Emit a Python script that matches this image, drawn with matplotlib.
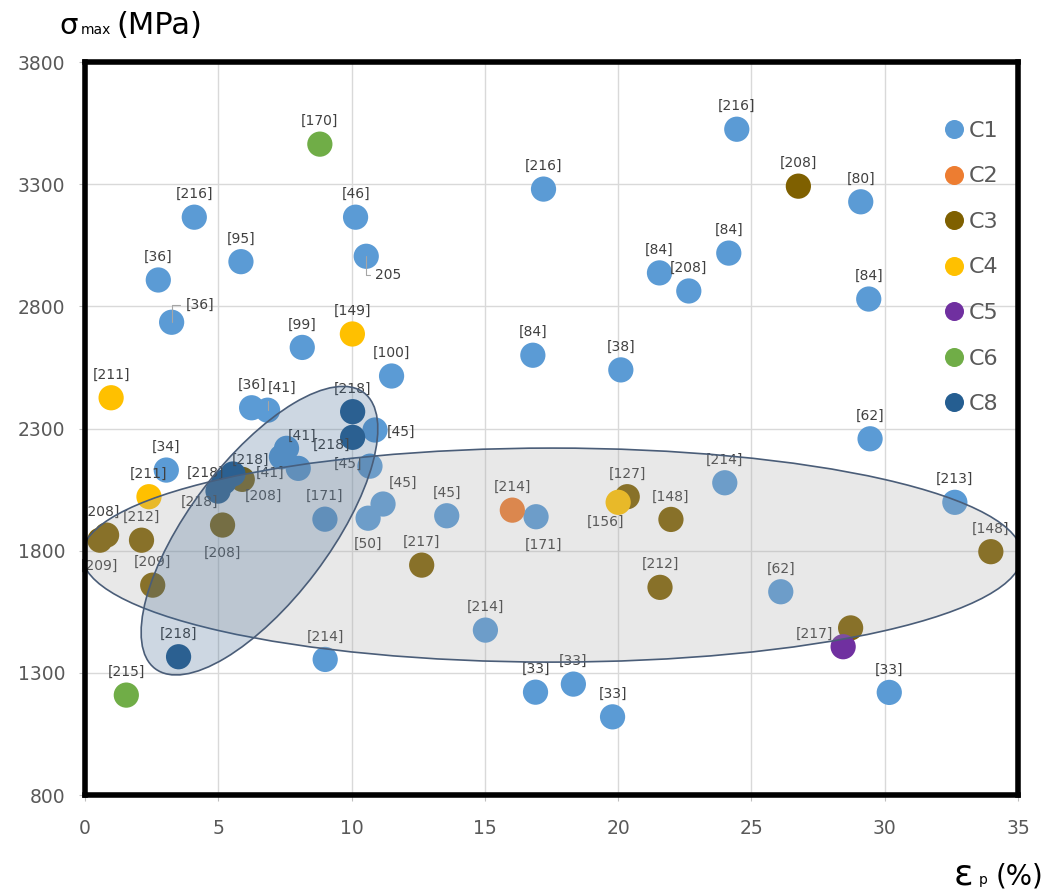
import numpy as np
import matplotlib.pyplot as plt
from matplotlib.patches import Ellipse
from matplotlib.lines import Line2D
from matplotlib.transforms import Affine2D

# elongation eps_p (%), max stress (MPa), reference tags
c1_x = [24.45, 17.2, 4.1, 10.15, 5.85, 10.55, 2.75, 3.25, 8.15, 21.55,
        22.65, 24.15, 29.1, 29.4, 16.8, 20.1, 11.5, 6.25, 6.85, 29.45,
        3.05, 7.56, 7.37, 8.0, 10.88, 10.69, 11.18, 10.62, 9.0, 13.57,
        16.92, 24.0, 32.63, 26.1, 15.02, 9.01, 16.9, 18.32, 19.79, 30.17]
c1_y = [3525, 3280, 3165, 3165, 2983, 3005, 2908, 2735, 2632, 2937,
        2863, 3018, 3228, 2830, 2600, 2540, 2515, 2385, 2375, 2258,
        2130, 2219, 2184, 2137, 2294, 2146, 1991, 1933, 1929, 1943,
        1939, 2078, 1998, 1632, 1475, 1355, 1221, 1254, 1120, 1220]
c1_ref = ['[216]', '[216]', '[216]', '[46]', '[95]', '205', '[36]', '[36]', '[99]', '[84]',
          '[208]', '[84]', '[80]', '[84]', '[84]', '[38]', '[100]', '[36]', '[41]', '[62]',
          '[34]', '[41]', '', '[41]', '[45]', '[45]', '[45]', '[50]', '[171]', '[45]',
          '[171]', '[214]', '[213]', '[62]', '[214]', '[214]', '[33]', '[33]', '[33]', '[33]']

c2_x = [16.03]
c2_y = [1966]
c2_ref = ['[214]']

c3_x = [26.76, 20.34, 21.98, 21.57, 12.63, 33.98, 28.72, 5.16, 5.9, 2.12, 0.81, 0.56, 2.54]
c3_y = [3292, 2021, 1928, 1650, 1741, 1796, 1484, 1905, 2092, 1843, 1864, 1843, 1659]
c3_ref = ['[208]', '[127]', '[148]', '[212]', '[217]', '[148]', '', '[208]', '[208]',
          '[212]', '[208]', '[209]', '[209]']

c4_x = [10.03, 0.98, 2.4, 20.0]
c4_y = [2687, 2426, 2021, 1998]
c4_ref = ['[149]', '[211]', '[211]', '[156]']

c5_x = [28.44]
c5_y = [1407]
c5_ref = ['[217]']

c6_x = [8.81, 1.55]
c6_y = [3464, 1209]
c6_ref = ['[170]', '[215]']

c8_x = [10.04, 10.04, 5.55, 5.21, 4.99, 3.51]
c8_y = [2369, 2264, 2114, 2081, 2044, 1366]
c8_ref = ['[218]', '[218]', '[218]', '[218]', '[218]', '[218]']

series = [
    ('C1', c1_x, c1_y, c1_ref, '#5B9BD5'),
    ('C2', c2_x, c2_y, c2_ref, '#ED7D31'),
    ('C3', c3_x, c3_y, c3_ref, '#7F6000'),
    ('C4', c4_x, c4_y, c4_ref, '#FFC000'),
    ('C5', c5_x, c5_y, c5_ref, '#7030A0'),
    ('C6', c6_x, c6_y, c6_ref, '#70AD47'),
    ('C8', c8_x, c8_y, c8_ref, '#255E91'),
]

# label placement (pixels) where it is not just above the marker
offsets = {
    ('C1', 5): (22, -19), ('C1', 7): (28, 17), ('C1', 18): (14, 22),
    ('C1', 21): (16, 12), ('C1', 23): (-28, -4), ('C1', 24): (26, -2),
    ('C1', 25): (-22, 2), ('C1', 26): (20, 21), ('C1', 27): (0, -26),
    ('C1', 30): (7, -28),
    ('C3', 7): (0, -28), ('C3', 8): (21, -16), ('C3', 10): (-5, 23),
    ('C3', 11): (0, -26),
    ('C4', 3): (-13, -20),
    ('C5', 0): (-29, 13),
    ('C8', 1): (-21, -8), ('C8', 2): (18, 14), ('C8', 3): (-18, 9),
    ('C8', 4): (-19, -11),
}
leaders = [('C1', 5), ('C1', 7), ('C1', 18)]

fig = plt.figure(figsize=(10.48, 8.94), dpi=100)
ax = fig.add_axes([0.0811, 0.1107, 0.8903, 0.8199])

for name, xs, ys, refs, col in series:
    ax.scatter(xs, ys, s=330, color=col, edgecolors='none', zorder=3)
    for i, (x, y, r) in enumerate(zip(xs, ys, refs)):
        if not r:
            continue
        dx, dy = offsets.get((name, i), (0, 23))
        kw = {}
        if (name, i) in leaders:
            kw['arrowprops'] = dict(arrowstyle='-', color='#A6A6A6', lw=0.8,
                                    shrinkA=2, shrinkB=0,
                                    connectionstyle='angle,angleA=0,angleB=90')
        ax.annotate(r, (x, y), xytext=(dx, dy), textcoords='offset pixels',
                    ha='center', va='center', fontsize=10, color='#404040',
                    zorder=4, **kw)

# highlighted groups
ax.add_patch(Ellipse((17.52, 1782), 35.26, 876, facecolor='#A6A6A6',
                     alpha=0.25, edgecolor='none', zorder=5))
ax.add_patch(Ellipse((17.52, 1782), 35.26, 876, facecolor='none',
                     edgecolor='#4A5D78', lw=1.2, zorder=5))
k = 109.1  # MPa per visual unit of x
tr = Affine2D().scale(1, k) + ax.transData
ax.add_patch(Ellipse((6.545, 1882 / k), 12.98, 5.25, angle=52.9,
                     facecolor='#3F6892', alpha=0.26, edgecolor='none',
                     transform=tr, zorder=5))
ax.add_patch(Ellipse((6.545, 1882 / k), 12.98, 5.25, angle=52.9,
                     facecolor='none', edgecolor='#4A5D78', lw=1.2,
                     transform=tr, zorder=5))

ax.set_xlim(0, 35)
ax.set_ylim(800, 3800)
ax.set_xticks(np.arange(0, 36, 5))
ax.set_yticks(np.arange(800, 3801, 500))
ax.grid(True, color='#D9D9D9', lw=1)
ax.set_axisbelow(True)
ax.tick_params(axis='both', labelsize=13.5, labelcolor='#595959',
               color='#BFBFBF', length=4)
ax.tick_params(axis='x', pad=13)
ax.tick_params(axis='y', pad=10)
for sp in ax.spines.values():
    sp.set_linewidth(4)
    sp.set_color('black')
    sp.set_zorder(10)

handles = [Line2D([], [], marker='o', ls='none', markersize=13.7,
                  markerfacecolor=s[4], markeredgecolor='none') for s in series]
ax.legend(handles, [s[0] for s in series], loc='upper left',
          bbox_to_anchor=(0.910, 0.935), frameon=False, fontsize=16,
          labelcolor='#595959', handlelength=0.8, handletextpad=0.25,
          labelspacing=1.15, borderpad=0)

fig.text(0.057, 0.962, 'σ', fontsize=21, color='black', va='baseline')
fig.text(0.077, 0.962, 'max', fontsize=10, color='black', va='baseline')
fig.text(0.111, 0.962, '(MPa)', fontsize=22, color='black', va='baseline')
fig.text(0.910, 0.011, 'ε', fontsize=26, color='black', va='baseline')
fig.text(0.934, 0.011, 'p', fontsize=10, color='black', va='baseline')
fig.text(0.950, 0.011, '(%)', fontsize=20, color='black', va='baseline')

fig.savefig('out.png', dpi=100)
